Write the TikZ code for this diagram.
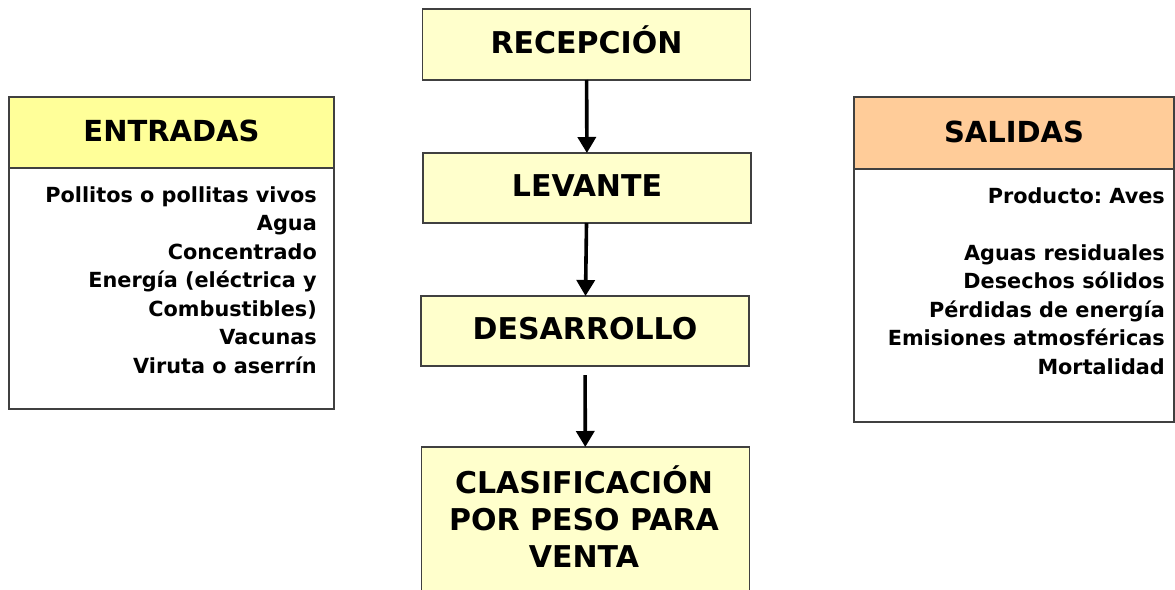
\documentclass[tikz,border=0pt]{standalone}
\usepackage{fontspec}
\setmainfont{DejaVu Sans}
\usepackage{xcolor}
\usetikzlibrary{arrows.meta,positioning}
\definecolor{stagefill}{HTML}{FFFFCC}
\definecolor{inhead}{HTML}{FFFF99}
\definecolor{outhead}{HTML}{FFCC99}
\definecolor{edge}{HTML}{404040}

\begin{document}
\begin{tikzpicture}[x=1pt,y=-1pt,
    stage/.style={draw=edge, line width=1.2pt, fill=stagefill, outer sep=0pt, inner sep=0pt,
        minimum width=328pt, minimum height=71pt, text height=22pt, text depth=5pt,
        font=\fontsize{30}{37}\selectfont\bfseries},
    head/.style={draw=edge, line width=1.2pt, outer sep=0pt, inner sep=0pt,
        text height=21pt, text depth=3pt, font=\fontsize{29}{35}\selectfont\bfseries},
    panel/.style={draw=edge, line width=1.2pt, fill=white, outer sep=0pt, inner sep=0pt},
    itemlist/.style={inner sep=0pt, font=\fontsize{20.8}{28.5}\selectfont\bfseries\frenchspacing},
    flow/.style={-{Triangle[width=18pt,length=16pt]}, line width=3.6pt}]
    \clip (0,0) rectangle (1175,589);

    % Etapas del proceso
    \node[stage] (recep) at (586.5,44.5) {RECEPCIÓN};
    \node[stage, minimum height=70pt] (levante) at (587,188) {LEVANTE};
    \node[stage, minimum height=70pt] (desarrollo) at (585,331) {DESARROLLO};
    \node[stage, anchor=north, minimum height=170pt] (clasif) at (585.5,447) {};
    \node[inner sep=0pt, anchor=base, font=\fontsize{30}{37}\selectfont\bfseries] (clasiftxt) at (584,493)
        {\begin{tabular}[t]{@{}c@{}}CLASIFICACIÓN\\POR PESO PARA\\VENTA\end{tabular}};

    % Flechas
    \draw[flow] (recep) -- (levante);
    \draw[flow] (levante) -- (desarrollo);
    \draw[flow, shorten <=9pt] (desarrollo) -- (clasif);

    % Entradas
    \node[panel, minimum width=325pt, minimum height=241pt, anchor=north] (entradasbox) at (171.5,168) {};
    \node[head, fill=inhead, minimum width=325pt, minimum height=71pt] (entradas) at (171.5,132.5) {ENTRADAS};
    \node[itemlist, anchor=base east] (entradaslist) at (317,202)
        {\begin{tabular}[t]{@{}r@{}}Pollitos o pollitas vivos\\Agua\\Concentrado\\Energía (eléctrica y\\Combustibles)\\Vacunas\\Viruta o aserrín\end{tabular}};

    % Salidas
    \node[panel, minimum width=320pt, minimum height=253pt, anchor=north] (salidasbox) at (1014,169) {};
    \node[head, fill=outhead, minimum width=320pt, minimum height=72pt] (salidas) at (1014,133) {SALIDAS};
    \node[itemlist, anchor=base east] (salidaslist) at (1165,203)
        {\begin{tabular}[t]{@{}r@{}}Producto: Aves\\ \\Aguas residuales\\Desechos sólidos\\Pérdidas de energía\\Emisiones atmosféricas\\Mortalidad\end{tabular}};
\end{tikzpicture}
\end{document}
